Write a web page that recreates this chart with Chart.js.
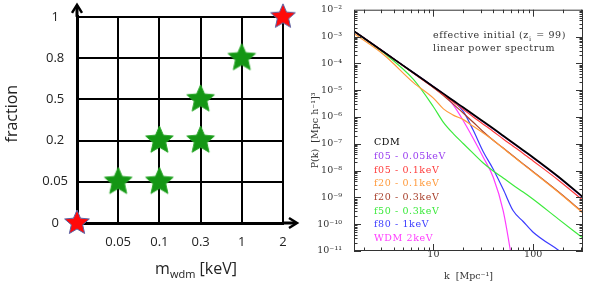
<!DOCTYPE html>
<html>
<head>
<meta charset="utf-8">
<script src="https://cdn.jsdelivr.net/npm/chart.js@4.4.1/dist/chart.umd.min.js"></script>
<style>
  html, body { margin: 0; padding: 0; background: #fff; }
  #wrap { position: relative; width: 593px; height: 289px; overflow: hidden; }
  #left { position: absolute; left: 0; top: 0; }
  #right { position: absolute; left: 300px; top: 0; }
</style>
</head>
<body>
<div id="wrap">
  <canvas id="left" width="300" height="289"></canvas>
  <canvas id="right" width="293" height="289"></canvas>
</div>
<script>
// ---------------- left panel : which runs were done ----------------
const massTicks = ["", "0.05", "0.1", "0.3", "1", "2"];
const fracTicks = ["0", "0.05", "0.2", "0.5", "0.8", "1"];
// mixed CDM + WDM runs (green)
const mixedMass = ["0.05", "0.1", "0.1", "0.3", "0.3", "1"];
const mixedFrac = ["0.05", "0.05", "0.2", "0.2", "0.5", "0.8"];
// pure runs : CDM and WDM 2keV (red)
const pureMass = ["", "2"];
const pureFrac = ["0", "1"];

// ---------------- right panel : initial power spectra ----------------
const kValues = [1.6, 3.16, 6.31, 10, 12.6, 15.8, 20, 25.1, 31.6, 39.8, 50.1, 63.1, 79.4, 100, 178, 316];
const pkCDM   = [1.58e-3, 2.69e-4, 4.47e-5, 1.35e-5, 7.41e-6, 4.07e-6, 2.24e-6, 1.23e-6, 6.76e-7, 3.72e-7, 2.00e-7, 1.07e-7, 5.75e-8, 3.09e-8, 6.03e-9, 1.02e-9];
const pkF05a  = [1.58e-3, 2.69e-4, 4.47e-5, 1.35e-5, 7.41e-6, 4.07e-6, 2.14e-6, 1.17e-6, 6.46e-7, 3.55e-7, 1.91e-7, 1.02e-7, 5.50e-8, 2.95e-8, 5.75e-9, 9.77e-10];
const pkF05b  = [1.58e-3, 2.69e-4, 4.27e-5, 1.26e-5, 6.76e-6, 3.63e-6, 1.91e-6, 1.00e-6, 5.37e-7, 2.88e-7, 1.51e-7, 8.13e-8, 4.37e-8, 2.29e-8, 4.47e-9, 7.76e-10];
const pkF20a  = [1.29e-3, 2.14e-4, 1.91e-5, 5.01e-6, 2.00e-6, 1.17e-6, 7.94e-7, 4.47e-7, 2.51e-7, 1.35e-7, 6.76e-8, 3.39e-8, 1.70e-8, 8.71e-9, 1.58e-9, 2.63e-10];
const pkF20b  = [1.58e-3, 2.69e-4, 4.37e-5, 1.26e-5, 6.31e-6, 3.02e-6, 1.38e-6, 6.31e-7, 2.82e-7, 1.35e-7, 6.92e-8, 3.47e-8, 1.78e-8, 9.12e-9, 1.66e-9, 2.75e-10];
const pkF50   = [1.58e-3, 2.51e-4, 2.51e-5, 2.40e-6, 6.31e-7, 2.40e-7, 1.00e-7, 4.37e-8, 1.91e-8, 9.55e-9, 5.25e-9, 2.82e-9, 1.58e-9, 8.51e-10, 1.58e-10, 3.02e-11];
const pkF80   = [1.58e-3, 2.69e-4, 4.47e-5, 1.35e-5, 7.08e-6, 3.80e-6, 1.58e-6, 3.16e-7, 5.01e-8, 1.12e-8, 2.00e-9, 3.16e-10, 1.26e-10, 5.01e-11, 1.10e-11, 2.51e-12];
const pkWDM   = [1.58e-3, 2.69e-4, 4.47e-5, 1.35e-5, 7.08e-6, 2.82e-6, 7.08e-7, 1.58e-7, 3.16e-8, 5.62e-9, 3.16e-10, 2.51e-12, null, null, null, null];

const seriesNames  = ["CDM", "f05 - 0.05keV", "f05 - 0.1keV", "f20 - 0.1keV", "f20 - 0.3keV", "f50 - 0.3keV", "f80 - 1keV", "WDM 2keV"];
const seriesValues = [pkCDM, pkF05a, pkF05b, pkF20a, pkF20b, pkF50, pkF80, pkWDM];
const seriesColors = ["#000000", "#9a40f0", "#ff3c3c", "#ff9a3c", "#a8402c", "#3cea3c", "#3c3cff", "#ff3cff"];

const kTicks = [10, 100];
const pTicks = [1e-11, 1e-10, 1e-9, 1e-8, 1e-7, 1e-6, 1e-5, 1e-4, 1e-3, 1e-2];
const pTickLabels = ["10⁻¹¹", "10⁻¹⁰", "10⁻⁹", "10⁻⁸", "10⁻⁷", "10⁻⁶", "10⁻⁵", "10⁻⁴", "10⁻³", "10⁻²"];

// ---------------------------------------------------------------------------
// star markers
function makeStar(fill, stroke, r) {
  const c = document.createElement("canvas");
  const size = Math.ceil(r * 2 + 4);
  c.width = size;
  c.height = size;
  const g = c.getContext("2d");
  g.translate(size / 2, size / 2);
  g.beginPath();
  for (let i = 0; i < 10; i++) {
    const rad = i % 2 === 0 ? r : r * 0.46;
    const a = -Math.PI / 2 + (i * Math.PI) / 5;
    g.lineTo(rad * Math.cos(a), rad * Math.sin(a));
  }
  g.closePath();
  g.fillStyle = fill;
  g.fill();
  g.strokeStyle = stroke;
  g.lineWidth = 1;
  g.stroke();
  return c;
}
const greenStar = makeStar("#149614", "#2aa82a", 14.5);
const redStar = makeStar("#ff0a0a", "#5a66a8", 13);

// arrows on the axes + x title with subscript
const arrowPlugin = {
  id: "arrows",
  afterDraw: (chart) => {
    const { ctx, chartArea: { left, right, top, bottom } } = chart;
    ctx.save();
    ctx.strokeStyle = "#000";
    ctx.lineWidth = 3;
    ctx.lineCap = "butt";
    // y axis going up
    ctx.beginPath();
    ctx.moveTo(left, top);
    ctx.lineTo(left, top - 11);
    ctx.stroke();
    // x axis going right
    ctx.beginPath();
    ctx.moveTo(right, bottom);
    ctx.lineTo(right + 13, bottom);
    ctx.stroke();
    // heads
    ctx.lineWidth = 2.5;
    ctx.lineJoin = "miter";
    ctx.beginPath();
    ctx.moveTo(left - 5, top - 4);
    ctx.lineTo(left, top - 12);
    ctx.lineTo(left + 5, top - 4);
    ctx.stroke();
    ctx.beginPath();
    ctx.moveTo(right + 6, bottom - 5);
    ctx.lineTo(right + 14, bottom);
    ctx.lineTo(right + 6, bottom + 5);
    ctx.stroke();

    // m_wdm [keV]
    const big = '16px "Open Sans"';
    const small = '11px "Open Sans"';
    ctx.fillStyle = "#222";
    ctx.textBaseline = "alphabetic";
    ctx.font = big;
    const w1 = ctx.measureText("m").width;
    const w3 = ctx.measureText(" [keV]").width;
    ctx.font = small;
    const w2 = ctx.measureText("wdm").width;
    let x = (left + right) / 2 + 16 - (w1 + w2 + w3) / 2;
    const y = 274;
    ctx.font = big;
    ctx.fillText("m", x, y);
    x += w1;
    ctx.font = small;
    ctx.fillText("wdm", x, y + 4);
    x += w2;
    ctx.font = big;
    ctx.fillText(" [keV]", x, y);
    ctx.restore();
  },
};

new Chart(document.getElementById("left"), {
  type: "scatter",
  data: {
    datasets: [
      {
        data: mixedMass.map((m, i) => ({ x: massTicks.indexOf(m), y: fracTicks.indexOf(mixedFrac[i]) })),
        pointStyle: greenStar,
        pointRadius: 14,
      },
      {
        data: pureMass.map((m, i) => ({ x: massTicks.indexOf(m), y: fracTicks.indexOf(pureFrac[i]) })),
        pointStyle: redStar,
        pointRadius: 13,
      },
    ],
  },
  options: {
    responsive: false,
    animation: false,
    events: [],
    clip: false,
    layout: { padding: { left: 0, top: 16, right: 17, bottom: 0 } },
    plugins: { legend: { display: false }, tooltip: { enabled: false } },
    scales: {
      x: {
        type: "linear",
        min: 0,
        max: 5,
        afterFit: (s) => { s.height = 66; },
        afterBuildTicks: (s) => { s.ticks = massTicks.map((_, i) => ({ value: i })); },
        ticks: {
          callback: (v) => massTicks[v],
          color: "#222",
          padding: 11,
          maxRotation: 0,
          autoSkip: false,
          font: { family: "Open Sans", size: 13 },
        },
        grid: { color: "#000", lineWidth: 2, drawTicks: false },
        border: { color: "#000", width: 3 },
      },
      y: {
        type: "linear",
        min: 0,
        max: 5,
        afterFit: (s) => { s.width = 77; },
        afterBuildTicks: (s) => { s.ticks = fracTicks.map((_, i) => ({ value: i })); },
        ticks: {
          callback: (v) => fracTicks[v],
          color: "#222",
          padding: 9,
          crossAlign: "center",
          autoSkip: false,
          font: { family: "Open Sans", size: 13 },
        },
        grid: { color: "#000", lineWidth: 2, drawTicks: false },
        border: { color: "#000", width: 3 },
        title: {
          display: true,
          text: "   fraction",
          color: "#222",
          font: { family: "Open Sans", size: 16 },
          padding: { top: 3, bottom: 0 },
        },
      },
    },
  },
  plugins: [arrowPlugin],
});

// ---------------------------------------------------------------------------
// frame with inward ticks on all four sides
const frameTicks = {
  id: "frameTicks",
  afterDatasetsDraw: (chart) => {
    const { ctx, chartArea: { left, right, top, bottom }, scales: { x, y } } = chart;
    ctx.save();
    ctx.strokeStyle = "#333";
    ctx.lineWidth = 1;
    ctx.strokeRect(left + 0.5, top + 0.5, right - left - 1, bottom - top - 1);
    ctx.beginPath();
    // x ticks
    for (let d = 1; d <= 100; d *= 10) {
      for (let m = 1; m <= 9; m++) {
        const v = m * d;
        if (v < x.min || v > x.max) continue;
        const px = Math.round(x.getPixelForValue(v)) + 0.5;
        const len = m === 1 ? 7 : 3.5;
        ctx.moveTo(px, bottom);
        ctx.lineTo(px, bottom - len);
        ctx.moveTo(px, top);
        ctx.lineTo(px, top + len);
      }
    }
    // y ticks
    for (let e = -11; e <= -3; e++) {
      for (let m = 1; m <= 9; m++) {
        const v = m * Math.pow(10, e);
        const py = Math.round(y.getPixelForValue(v)) + 0.5;
        const len = m === 1 ? 7 : 3.5;
        ctx.moveTo(left, py);
        ctx.lineTo(left + len, py);
        ctx.moveTo(right, py);
        ctx.lineTo(right - len, py);
      }
    }
    ctx.stroke();
    ctx.restore();
  },
};

// coloured text legend + caption
const textLegend = {
  id: "textLegend",
  afterDatasetsDraw: (chart) => {
    const { ctx, chartArea: { left, top } } = chart;
    ctx.save();
    ctx.font = '9.5px "DejaVu Serif"';
    ctx.letterSpacing = "0.6px";
    ctx.textBaseline = "middle";
    chart.data.datasets.forEach((ds, i) => {
      ctx.fillStyle = ds.borderColor;
      ctx.fillText(ds.label, left + 20, top + 133 + i * 13.7);
    });

    // caption
    ctx.fillStyle = "#333";
    ctx.textBaseline = "alphabetic";
    let x = left + 79;
    const t1 = "effective initial (z";
    ctx.fillText(t1, x, top + 28);
    x += ctx.measureText(t1).width;
    ctx.font = '6.5px "DejaVu Serif"';
    ctx.fillText("i", x, top + 31);
    x += ctx.measureText("i").width + 1;
    ctx.font = '9.5px "DejaVu Serif"';
    ctx.fillText(" = 99)", x, top + 28);
    ctx.fillText("linear power spectrum", left + 79, top + 41);
    ctx.restore();
  },
};

const serifFont = { family: "DejaVu Serif", size: 9.5 };

new Chart(document.getElementById("right"), {
  type: "line",
  data: {
    datasets: seriesNames.map((name, i) => ({
      label: name,
      data: kValues.map((k, j) => ({ x: k, y: seriesValues[i][j] })),
      borderColor: seriesColors[i],
      borderWidth: i === 0 ? 1.8 : 1.2,
      pointRadius: 0,
      cubicInterpolationMode: "monotone",
      fill: false,
    })),
  },
  options: {
    responsive: false,
    animation: false,
    events: [],
    layout: { padding: { left: 0, top: 8, right: 10, bottom: 0 } },
    plugins: { legend: { display: false }, tooltip: { enabled: false } },
    scales: {
      x: {
        type: "logarithmic",
        min: 1.6,
        max: 316,
        afterFit: (s) => { s.height = 38; },
        afterBuildTicks: (s) => { s.ticks = kTicks.map((v) => ({ value: v })); },
        ticks: {
          callback: (v) => String(v),
          color: "#333",
          padding: -10,
          maxRotation: 0,
          autoSkip: false,
          font: serifFont,
        },
        grid: { display: false },
        border: { display: false },
        title: {
          display: true,
          text: "k  [Mpc⁻¹]",
          color: "#333",
          font: serifFont,
          padding: { top: 0, bottom: 7 },
        },
      },
      y: {
        type: "logarithmic",
        min: 1e-11,
        max: 1e-2,
        afterFit: (s) => { s.width = 54; },
        afterBuildTicks: (s) => { s.ticks = pTicks.map((v) => ({ value: v })); },
        ticks: {
          callback: (v, i) => pTickLabels[i],
          color: "#333",
          padding: 4,
          autoSkip: false,
          font: serifFont,
        },
        grid: { display: false },
        border: { display: false },
        title: {
          display: true,
          text: "P(k)  [Mpc h⁻¹]³",
          color: "#333",
          font: serifFont,
          padding: { top: 10, bottom: 0 },
        },
      },
    },
  },
  plugins: [frameTicks, textLegend],
});
</script>
</body>
</html>
